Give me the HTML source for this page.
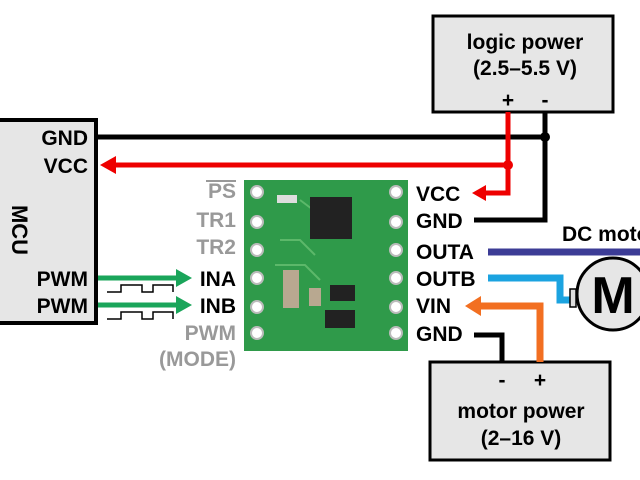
<!DOCTYPE html><html><head><style>body{margin:0;background:#fff}svg{display:block}text{font-family:"Liberation Sans",sans-serif;font-weight:bold;font-size:21px}</style></head><body>
<svg width="640" height="480" viewBox="0 0 640 480">
<rect x="-5" y="120" width="101" height="203" fill="#e6e6e6" stroke="#000" stroke-width="4"/>
<text x="12" y="230" transform="rotate(90 12 230)" text-anchor="middle" style="font-size:22px">MCU</text>
<g text-anchor="end"><text x="88" y="145">GND</text><text x="88" y="173">VCC</text><text x="88" y="286">PWM</text><text x="88" y="313">PWM</text></g>
<rect x="433" y="16" width="180" height="96" fill="#e6e6e6" stroke="#000" stroke-width="3"/>
<text x="525" y="49" text-anchor="middle">logic power</text><text x="525" y="75" text-anchor="middle">(2.5–5.5 V)</text>
<text x="508" y="107" text-anchor="middle">+</text><text x="545" y="107" text-anchor="middle">-</text>
<rect x="430" y="362" width="180" height="98" fill="#e6e6e6" stroke="#000" stroke-width="3"/>
<text x="502" y="387" text-anchor="middle">-</text><text x="540" y="387" text-anchor="middle">+</text>
<text x="521" y="418" text-anchor="middle">motor power</text><text x="521" y="445" text-anchor="middle">(2–16 V)</text>
<g fill="none" stroke-width="5">
<path d="M96 137H545M545 112V220H474" stroke="#000"/>
<path d="M508 112V193H478M508 165H112" stroke="#e00"/>
<path d="M474 335H502V362" stroke="#000"/>
<path d="M540 362V306H478" stroke="#f26f21" stroke-width="7"/>
<path d="M488 252H640" stroke="#3c3c96" stroke-width="7"/>
<path d="M488 278H560V300H573" stroke="#1ba3e0" stroke-width="7"/>
<path d="M98 278H178M98 305H178" stroke="#1aa55a"/>
<path d="M107 292H121V285H142V292H153V285H173V292M107 319H121V312H142V319H153V312H173V319" stroke="#000" stroke-width="1.5"/>
</g>
<circle cx="545" cy="137" r="5"/><circle cx="508" cy="165" r="5" fill="#e00"/>
<path d="M100 165l16-9v18z" fill="#e00"/><path d="M472 193l14-8v16z" fill="#e00"/>
<path d="M465 306l16-10v20z" fill="#f26f21"/>
<path d="M192 278l-16-9v18zM192 305l-16-9v18z" fill="#1aa55a"/>
<rect x="570" y="289" width="6" height="18" fill="#ddd" stroke="#000" stroke-width="1.5"/>
<circle cx="613" cy="294" r="36" fill="#e6e6e6" stroke="#000" stroke-width="3"/>
<text x="613" y="313" text-anchor="middle" style="font-size:52px">M</text>
<text x="562" y="241">DC motor</text>
<g text-anchor="end"><text x="236" y="198" fill="#999">PS</text><line x1="206" y1="181" x2="236" y2="181" stroke="#999" stroke-width="2"/><text x="236" y="227" fill="#999">TR1</text><text x="236" y="254" fill="#999">TR2</text><text x="236" y="286">INA</text><text x="236" y="313">INB</text><text x="236" y="340" fill="#999">PWM</text><text x="236" y="366" fill="#999">(MODE)</text></g>
<g><text x="416" y="201">VCC</text><text x="416" y="228">GND</text><text x="416" y="259">OUTA</text><text x="416" y="286">OUTB</text><text x="416" y="313">VIN</text><text x="416" y="341">GND</text></g>
<rect x="244" y="180" width="164" height="171" fill="#2f9a4a"/>
<path d="M280 240H300L315 255M275 265H305L320 280M300 200L320 215" stroke="#5cb86a" fill="none" stroke-width="2"/>
<rect x="310" y="197" width="42" height="42" fill="#222"/>
<rect x="283" y="270" width="16" height="38" fill="#b8a890"/><rect x="309" y="288" width="12" height="18" fill="#b8a890"/>
<rect x="330" y="285" width="25" height="16" fill="#222"/><rect x="325" y="310" width="30" height="18" fill="#222"/>
<rect x="277" y="195" width="20" height="8" fill="#ddd"/>
<g fill="#fff" stroke="#bbb" stroke-width="2"><circle cx="257" cy="192" r="6"/><circle cx="257" cy="222" r="6"/><circle cx="257" cy="250" r="6"/><circle cx="257" cy="278" r="6"/><circle cx="257" cy="307" r="6"/><circle cx="257" cy="333" r="6"/><circle cx="396" cy="192" r="6"/><circle cx="396" cy="222" r="6"/><circle cx="396" cy="250" r="6"/><circle cx="396" cy="278" r="6"/><circle cx="396" cy="307" r="6"/><circle cx="396" cy="333" r="6"/></g>
</svg></body></html>
